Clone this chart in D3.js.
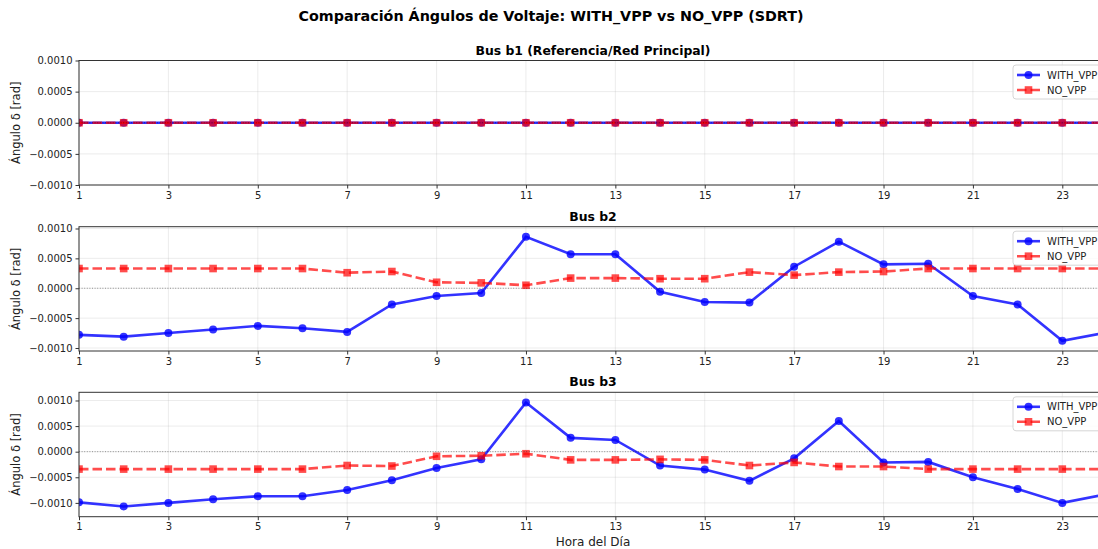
<!DOCTYPE html>
<html>
<head>
<meta charset="utf-8">
<script src="https://cdn.jsdelivr.net/npm/d3@7"></script>
<style>
  body { margin: 0; background: #fff; }
  svg { display: block; font-family: 'DejaVu Sans', sans-serif; }
</style>
</head>
<body>
<svg id="chart"></svg>
<script>
// hours of the day
const hours = d3.range(1, 25)

const xTicks = [1, 3, 5, 7, 9, 11, 13, 15, 17, 19, 21, 23]
const yTicks = [-0.001, -0.0005, 0, 0.0005, 0.001]

// Bus b1 (reference bus) - all zero
const b1With = [0, 0, 0, 0, 0, 0, 0, 0, 0, 0, 0, 0, 0, 0, 0, 0, 0, 0, 0, 0, 0, 0, 0, 0]
const b1No = [0, 0, 0, 0, 0, 0, 0, 0, 0, 0, 0, 0, 0, 0, 0, 0, 0, 0, 0, 0, 0, 0, 0, 0]

// Bus b2
const b2With = [-0.00078, -0.00081, -0.00075, -0.00069, -0.00063, -0.00067, -0.00073, -0.00027,
  -0.00013, -0.00008, 0.00086, 0.00057, 0.00057, -0.00006, -0.00023, -0.00024,
  0.00036, 0.00078, 0.0004, 0.00041, -0.00013, -0.00027, -0.00088, -0.00074]
const b2No = [0.00033, 0.00033, 0.00033, 0.00033, 0.00033, 0.00033, 0.00026, 0.00028,
  0.0001, 0.00009, 0.00005, 0.00017, 0.00017, 0.00016, 0.00016, 0.00027,
  0.00022, 0.00027, 0.00028, 0.00033, 0.00033, 0.00033, 0.00033, 0.00033]

// Bus b3
const b3With = [-0.00099, -0.00107, -0.001, -0.00093, -0.00087, -0.00087, -0.00075, -0.00056,
  -0.00032, -0.00015, 0.00096, 0.00027, 0.00023, -0.00027, -0.00035, -0.00057,
  -0.00013, 0.0006, -0.00021, -0.0002, -0.0005, -0.00073, -0.001, -0.00083]
const b3No = [-0.00034, -0.00034, -0.00034, -0.00034, -0.00034, -0.00034, -0.00027, -0.00028,
  -0.00009, -0.00008, -0.00004, -0.00016, -0.00016, -0.00015, -0.00016, -0.00027,
  -0.00021, -0.00029, -0.00029, -0.00034, -0.00034, -0.00034, -0.00034, -0.00034]

const panels = [
  { title: 'Bus b1 (Referencia/Red Principal)', w: b1With, n: b1No, top: 60.5, bottom: 185, dom: [-0.001, 0.001] },
  { title: 'Bus b2', w: b2With, n: b2No, top: 226.7, bottom: 351, dom: [-0.00105, 0.00103] },
  { title: 'Bus b3', w: b3With, n: b3No, top: 392.3, bottom: 516.7, dom: [-0.00127, 0.00116] }
]

var width = 1098
var height = 549
var left = 79
var right = 1107

var svg = d3.select('#chart').attr('width', width).attr('height', height)

svg.append('text')
  .attr('x', 551).attr('y', 21)
  .attr('text-anchor', 'middle')
  .attr('font-size', 14.3).attr('font-weight', 'bold')
  .text('Comparación Ángulos de Voltaje: WITH_VPP vs NO_VPP (SDRT)')

var x = d3.scaleLinear().domain([1, 24]).range([left, right])

var fmt = (v) => d3.format('.4f')(v).replace('-', '\u2212')

panels.forEach((p, i) => {
  var y = d3.scaleLinear().domain(p.dom).range([p.bottom, p.top])
  var g = svg.append('g')

  var clipId = 'clip' + i
  svg.append('clipPath').attr('id', clipId)
    .append('rect')
    .attr('x', left).attr('y', p.top)
    .attr('width', right - left).attr('height', p.bottom - p.top)

  // grid
  g.append('g')
    .selectAll('line')
    .data(xTicks)
    .join('line')
    .attr('x1', (d) => x(d)).attr('x2', (d) => x(d))
    .attr('y1', p.top).attr('y2', p.bottom)
    .attr('stroke', '#b0b0b0').attr('stroke-opacity', 0.3).attr('stroke-width', 0.8)
  g.append('g')
    .selectAll('line')
    .data(yTicks)
    .join('line')
    .attr('x1', left).attr('x2', right)
    .attr('y1', (d) => y(d)).attr('y2', (d) => y(d))
    .attr('stroke', '#b0b0b0').attr('stroke-opacity', 0.3).attr('stroke-width', 0.8)

  var plot = g.append('g').attr('clip-path', `url(#${clipId})`)

  // lines
  var line = d3.line().x((d, j) => x(hours[j])).y((d) => y(d))

  plot.append('path')
    .attr('d', line(p.w))
    .attr('fill', 'none')
    .attr('stroke', '#0000ff').attr('stroke-opacity', 0.8)
    .attr('stroke-width', 2.6)
  plot.append('g')
    .selectAll('circle')
    .data(p.w)
    .join('circle')
    .attr('cx', (d, j) => x(hours[j])).attr('cy', (d) => y(d))
    .attr('r', 4)
    .attr('fill', '#0000ff').attr('fill-opacity', 0.8)

  plot.append('path')
    .attr('d', line(p.n))
    .attr('fill', 'none')
    .attr('stroke', '#ff0000').attr('stroke-opacity', 0.7)
    .attr('stroke-width', 2.6)
    .attr('stroke-dasharray', '9.5,4')
  plot.append('g')
    .selectAll('rect')
    .data(p.n)
    .join('rect')
    .attr('x', (d, j) => x(hours[j]) - 3.8).attr('y', (d) => y(d) - 3.8)
    .attr('width', 7.6).attr('height', 7.6)
    .attr('fill', '#ff0000').attr('fill-opacity', 0.7)

  // zero reference line
  plot.append('line')
    .attr('x1', left).attr('x2', right)
    .attr('y1', y(0)).attr('y2', y(0))
    .attr('stroke', '#000').attr('stroke-opacity', 0.5)
    .attr('stroke-width', 0.8).attr('stroke-dasharray', '1,1.6')

  // axes
  g.append('g')
    .attr('transform', `translate(0,${p.bottom})`)
    .call(d3.axisBottom(x).tickValues(xTicks).tickSize(3.5).tickPadding(3).tickFormat(d3.format('d')))
    .call((a) => a.select('.domain').remove())
    .call((a) => a.selectAll('text').attr('font-size', 10).attr('fill', '#222').attr('font-family', 'DejaVu Sans'))
    .call((a) => a.selectAll('line').attr('stroke', '#333'))
  g.append('g')
    .attr('transform', `translate(${left},0)`)
    .call(d3.axisLeft(y).tickValues(yTicks).tickSize(3.5).tickPadding(3).tickFormat(fmt))
    .call((a) => a.select('.domain').remove())
    .call((a) => a.selectAll('text').attr('font-size', 10).attr('fill', '#222').attr('font-family', 'DejaVu Sans'))
    .call((a) => a.selectAll('line').attr('stroke', '#333'))

  g.append('rect')
    .attr('x', left).attr('y', p.top)
    .attr('width', right - left).attr('height', p.bottom - p.top)
    .attr('fill', 'none').attr('stroke', '#333').attr('stroke-width', 1)

  // titles
  g.append('text')
    .attr('x', (left + right) / 2).attr('y', p.top - 6)
    .attr('text-anchor', 'middle')
    .attr('font-size', 12.4).attr('font-weight', 'bold')
    .text(p.title)

  g.append('text')
    .attr('transform', `translate(20,${(p.top + p.bottom) / 2}) rotate(-90)`)
    .attr('text-anchor', 'middle')
    .attr('font-size', 11.5).attr('fill', '#222')
    .text('Ángulo δ [rad]')

  // legend
  var lg = g.append('g').attr('transform', `translate(1013,${p.top + 4.5})`)
  lg.append('rect')
    .attr('width', 88).attr('height', 34).attr('rx', 3)
    .attr('fill', '#fff').attr('fill-opacity', 0.8)
    .attr('stroke', '#ccc').attr('stroke-width', 0.8)
  lg.append('line').attr('x1', 4).attr('x2', 27).attr('y1', 10).attr('y2', 10)
    .attr('stroke', '#0000ff').attr('stroke-opacity', 0.8).attr('stroke-width', 2.6)
  lg.append('circle').attr('cx', 15.5).attr('cy', 10).attr('r', 4)
    .attr('fill', '#0000ff').attr('fill-opacity', 0.8)
  lg.append('line').attr('x1', 4).attr('x2', 27).attr('y1', 25).attr('y2', 25)
    .attr('stroke', '#ff0000').attr('stroke-opacity', 0.7).attr('stroke-width', 2.6)
    .attr('stroke-dasharray', '9.5,4')
  lg.append('rect').attr('x', 11.7).attr('y', 21.2).attr('width', 7.6).attr('height', 7.6)
    .attr('fill', '#ff0000').attr('fill-opacity', 0.7)
  lg.append('text').attr('x', 34).attr('y', 13.5).attr('font-size', 10).attr('fill', '#222').text('WITH_VPP')
  lg.append('text').attr('x', 34).attr('y', 28.5).attr('font-size', 10).attr('fill', '#222').text('NO_VPP')
})

svg.append('text')
  .attr('x', (left + right) / 2).attr('y', 545.5)
  .attr('text-anchor', 'middle')
  .attr('font-size', 12).attr('fill', '#222')
  .text('Hora del Día')
</script>
</body>
</html>
